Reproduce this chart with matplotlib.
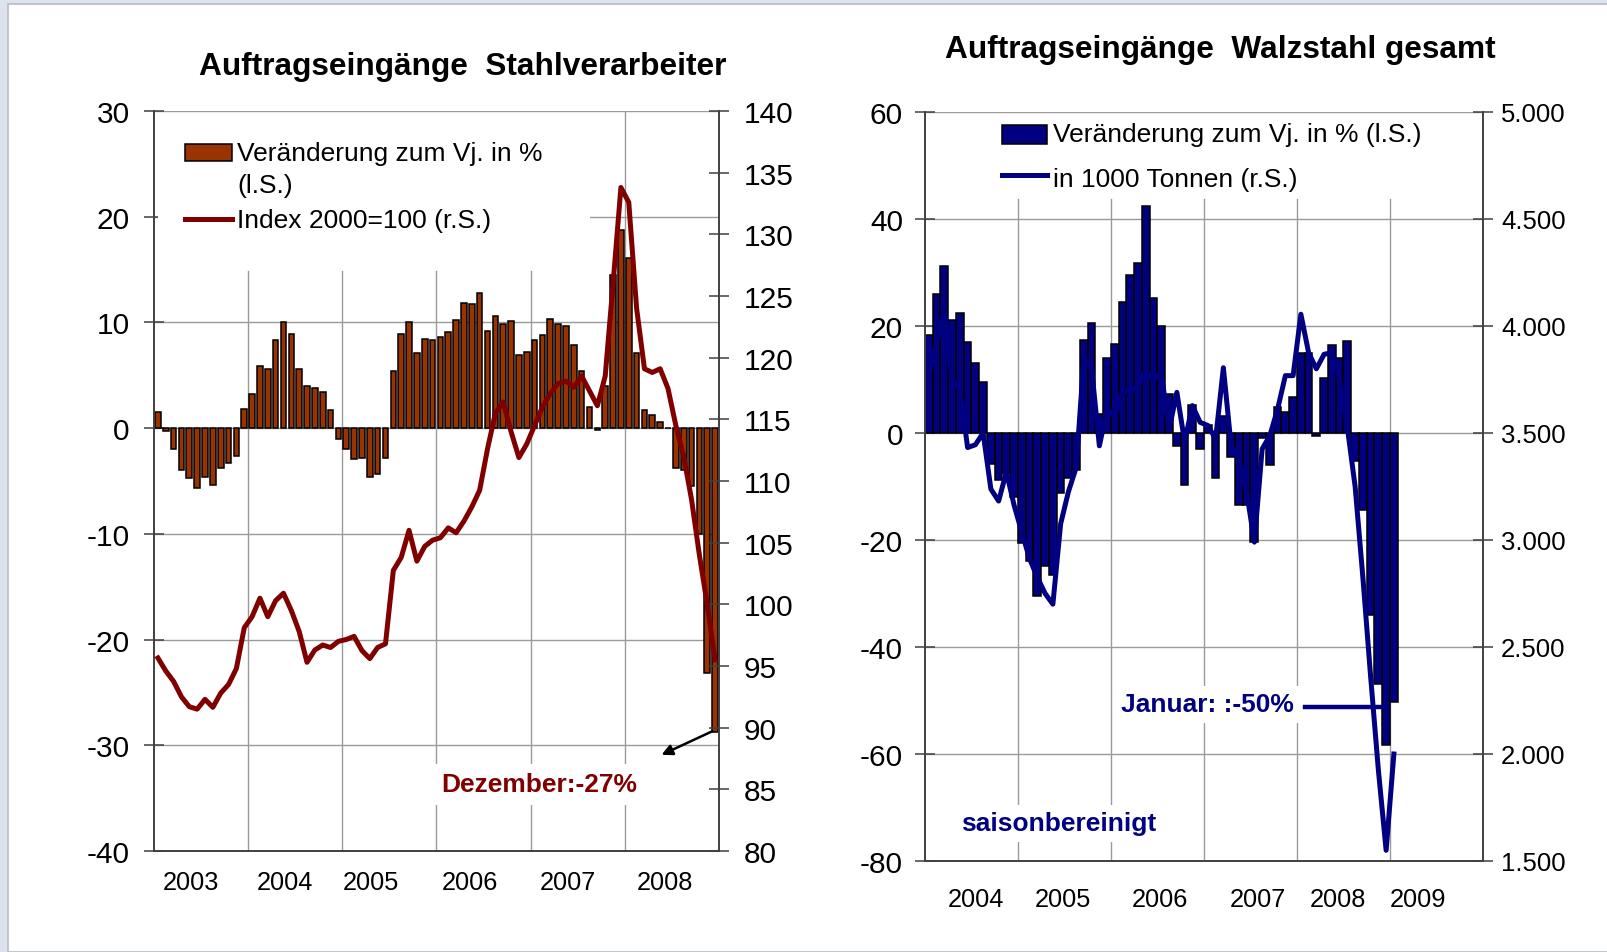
import matplotlib
matplotlib.use("Agg")
import matplotlib.pyplot as plt
from matplotlib.patches import Rectangle
from matplotlib.lines import Line2D
import numpy as np

plt.rcParams['font.family'] = ['Liberation Sans', 'DejaVu Sans']
plt.rcParams['axes.unicode_minus'] = False

# ---------------- data: left chart (2003-2008, monthly) ----------------
left_years = ['2003', '2004', '2005', '2006', '2007', '2008']
left_change = [1.5, -0.25, -2.0, -4.0, -4.7, -5.7, -4.6, -5.4, -3.8, -3.3, -2.6, 1.8,
               3.25, 5.9, 5.55, 8.3, 10.0, 8.9, 5.55, 4.0, 3.8, 3.4, 1.7, -1.0,
               -2.0, -2.9, -2.8, -4.6, -4.3, -2.8, 5.4, 8.9, 10.0, 7.1, 8.45, 8.3,
               8.6, 9.1, 10.2, 11.8, 11.7, 12.8, 9.2, 10.6, 9.85, 10.15, 6.9, 7.2,
               8.3, 8.8, 10.3, 9.85, 9.7, 7.85, 5.4, 2.0, -0.15, 4.0, 14.5, 18.7,
               16.1, 7.1, 1.7, 1.2, 0.6, 0.0, -3.8, -4.0, -5.5, -10.0, -23.2, -28.7]
left_index = [95.65, 94.6, 93.75, 92.5, 91.7, 91.5, 92.3, 91.65, 92.8, 93.5, 94.8, 98.1,
              99.0, 100.5, 99.0, 100.3, 100.9, 99.5, 97.8, 95.3, 96.3, 96.7, 96.5, 97.0,
              97.15, 97.4, 96.25, 95.6, 96.5, 96.8, 102.75, 103.8, 106.0, 103.5, 104.7, 105.2,
              105.4, 106.2, 105.8, 106.75, 107.9, 109.25, 112.6, 115.5, 116.4, 114.0, 111.9, 113.0,
              114.5, 116.0, 117.1, 117.9, 118.1, 117.6, 118.5, 117.3, 116.1, 118.5, 126.0, 133.8,
              132.6, 124.0, 119.1, 118.8, 119.1, 117.5, 114.5, 112.0, 108.5, 104.0, 100.0, 95.5]

# ---------------- data: right chart (2004 - Jan 2009, monthly) ----------------
right_years = ['2004', '2005', '2006', '2007', '2008', '2009']
right_change = [18.4, 26.0, 31.2, 21.2, 22.4, 17.0, 13.1, 9.5, -5.8, -8.8, -7.4, -11.9,
                -20.6, -24.0, -30.4, -24.8, -26.6, -11.2, -8.5, -7.0, 17.3, 20.6, 3.5, 14.0,
                16.7, 24.5, 29.6, 31.7, 42.4, 25.2, 20.0, 7.3, -2.4, -9.8, 5.3, -3.0,
                1.5, -8.4, 3.1, -4.5, -13.5, -13.4, -20.4, -1.0, -6.0, 4.9, 3.9, 6.8,
                15.0, 15.0, -0.5, 10.3, 16.5, 14.0, 17.2, -5.3, -14.3, -34.0, -47.0, -58.4,
                -50.3]
right_tonnes = [3775, 3925, 4075, 3750, 3700, 3432, 3445, 3500, 3238, 3182, 3318, 3162,
                3035, 2912, 2825, 2750, 2700, 3075, 3225, 3338, 3850, 3800, 3440, 3612,
                3575, 3700, 3690, 3725, 3788, 3750, 3775, 3518, 3690, 3458, 3628, 3550,
                3535, 3472, 3805, 3440, 3375, 3225, 2990, 3425, 3488, 3612, 3768, 3768,
                4055, 3875, 3800, 3868, 3875, 3750, 3525, 3250, 2825, 2362, 1925, 1550,
                2000]

BROWN = '#993300'
DARKRED = '#800000'
NAVY = '#000080'
GRID = '#9a9a9a'
AXC = '#404040'

W, H = 1608, 953
fig = plt.figure(figsize=(W / 100, H / 100), dpi=100)
fig.patch.set_facecolor('#dce3ee')


def fx(px):
    return px / W


def fy(py):
    return 1 - py / H


# white page
fig.add_artist(Rectangle((fx(8), 0), 1 - fx(8), fy(5), transform=fig.transFigure,
                         facecolor='white', edgecolor='#b8bcc4', linewidth=1.2, zorder=0))

TICKFS = 21.5
YEARFS = 18.3
LEGFS = 19
TITLEFS = 22.8


def style_axis(ax):
    ax.spines['top'].set_visible(False)
    for s in ['left', 'right', 'bottom']:
        ax.spines[s].set_color(AXC)
        ax.spines[s].set_linewidth(1.2)


# ================= LEFT CHART =================
ax1 = fig.add_axes([fx(154), fy(852), fx(719) - fx(154), fy(112) - fy(852)])
x1 = np.arange(len(left_change))
ax1.set_xlim(-0.5, 71.5)
ax1.set_ylim(-40, 30)
ax1.set_yticks(np.arange(-40, 31, 10))
ax1.yaxis.grid(True, color=GRID, linewidth=1.0)
ax1.set_axisbelow(True)
for b in [11.5, 23.5, 35.5, 47.5]:
    ax1.axvline(b, ymin=0, ymax=(852 - 272) / 740, color=GRID, linewidth=1.0, zorder=0.5)
ax1.axvline(59.5, color=GRID, linewidth=1.0, zorder=0.5)
ax1.bar(x1, left_change, width=0.72, color=BROWN, edgecolor='black', linewidth=1.1, zorder=2)
ax1.set_xticks([4.2, 16.2, 27.1, 39.75, 52.2, 64.6])
ax1.set_xticklabels(left_years, fontsize=YEARFS)
ax1.tick_params(axis='x', length=0, pad=13.5)
ax1.tick_params(axis='y', direction='inout', length=15, width=1.1, labelsize=TICKFS, pad=10,
                color=AXC)
style_axis(ax1)

ax1r = ax1.twinx()
ax1r.set_ylim(80, 140)
ax1r.set_yticks(np.arange(80, 141, 5))
ax1r.plot(x1, left_index, color=DARKRED, linewidth=3.6, solid_joinstyle='round', zorder=3)
ax1r.tick_params(axis='y', direction='inout', length=15, width=1.1, labelsize=TICKFS, pad=10,
                 color=AXC)
style_axis(ax1r)

fig.text(fx(462.5), fy(66.8), 'Auftragseingänge  Stahlverarbeiter', fontsize=TITLEFS,
         fontweight='bold', ha='center', va='center')

# legend (left)
leg_bg = Rectangle((fx(158), fy(270)), fx(590) - fx(158), fy(114) - fy(270),
                   facecolor='white', edgecolor='none', zorder=2.5)
ax1r.add_artist(leg_bg)
leg_bg.set_transform(fig.transFigure)
fig.add_artist(Rectangle((fx(185), fy(162)), fx(232) - fx(185), fy(145) - fy(162),
                         transform=fig.transFigure, facecolor=BROWN, edgecolor='black',
                         linewidth=1.1, zorder=5))
fig.add_artist(Line2D([fx(185), fx(232)], [fy(219.5), fy(219.5)], transform=fig.transFigure,
                      color=DARKRED, linewidth=3.6, zorder=5))
fig.text(fx(237), fy(154), 'Veränderung zum Vj. in %', fontsize=LEGFS, va='center', ha='left')
fig.text(fx(237), fy(185.5), '(l.S.)', fontsize=LEGFS, va='center', ha='left')
fig.text(fx(237), fy(221), 'Index 2000=100 (r.S.)', fontsize=LEGFS, va='center', ha='left')

# annotation
fig.text(fx(539), fy(785.5), 'Dezember:-27%', color=DARKRED, fontsize=LEGFS, fontweight='bold',
         ha='center', va='center',
         bbox=dict(facecolor='white', edgecolor='none', pad=6))
ax1.annotate('', xy=(fx(659), fy(757)), xycoords='figure fraction',
             xytext=(fx(715), fy(731)), textcoords='figure fraction',
             arrowprops=dict(arrowstyle='-|>', color='black', lw=1.8, mutation_scale=16))

# ================= RIGHT CHART =================
ax2 = fig.add_axes([fx(925), fy(862), fx(1483) - fx(925), fy(113) - fy(862)])
x2 = np.arange(len(right_change))
ax2.set_xlim(-0.5, 71.5)
ax2.set_ylim(-80, 60)
ax2.set_yticks(np.arange(-80, 61, 20))
ax2.yaxis.grid(True, color=GRID, linewidth=1.0)
ax2.set_axisbelow(True)
for b in [11.5, 23.5, 35.5, 47.5, 59.5]:
    ax2.axvline(b, ymin=0, ymax=(862 - 200) / 749, color=GRID, linewidth=1.0, zorder=0.5)
ax2.bar(x2, right_change, width=1.0, color=NAVY, edgecolor='black', linewidth=1.1, zorder=2)
ax2.set_xticks([6.08, 17.3, 29.8, 42.45, 52.8, 63.1])
ax2.set_xticklabels(right_years, fontsize=YEARFS)
ax2.tick_params(axis='x', length=0, pad=18.5)
ax2.tick_params(axis='y', direction='inout', length=15, width=1.1, labelsize=TICKFS, pad=8.3,
                color=AXC)
style_axis(ax2)

ax2r = ax2.twinx()
ax2r.set_ylim(1500, 5000)
ax2r.set_yticks(np.arange(1500, 5001, 500))
ax2r.set_yticklabels([f'{v:,}'.replace(',', '.') for v in range(1500, 5001, 500)])
ax2r.plot(x2, right_tonnes, color=NAVY, linewidth=3.6, solid_joinstyle='round', zorder=3)
ax2r.tick_params(axis='y', direction='inout', length=15, width=1.1, labelsize=18.5, pad=5.5,
                 color=AXC)
style_axis(ax2r)

fig.text(fx(1220), fy(50.2), 'Auftragseingänge  Walzstahl gesamt', fontsize=TITLEFS,
         fontweight='bold', ha='center', va='center')

# legend (right)
fig.add_artist(Rectangle((fx(1002), fy(144.6)), fx(1047) - fx(1002), fy(126) - fy(144.6),
                         transform=fig.transFigure, facecolor=NAVY, edgecolor='black',
                         linewidth=1.1, zorder=5))
fig.add_artist(Line2D([fx(1002), fx(1047)], [fy(176.4), fy(176.4)], transform=fig.transFigure,
                      color=NAVY, linewidth=3.6, zorder=5))
fig.text(fx(1053), fy(135.4), 'Veränderung zum Vj. in % (l.S.)', fontsize=LEGFS, va='center', ha='left')
fig.text(fx(1053), fy(179.5), 'in 1000 Tonnen (r.S.)', fontsize=LEGFS, va='center', ha='left')

fig.text(fx(1207), fy(705.5), 'Januar: :-50%', color=NAVY, fontsize=LEGFS, fontweight='bold',
         ha='center', va='center', bbox=dict(facecolor='white', edgecolor='none', pad=5))
fig.add_artist(Line2D([fx(1305), fx(1381)], [fy(708), fy(708)], transform=fig.transFigure,
                      color=NAVY, linewidth=3.2, zorder=5))
fig.text(fx(1059), fy(824.5), 'saisonbereinigt', color=NAVY, fontsize=LEGFS, fontweight='bold',
         ha='center', va='center', bbox=dict(facecolor='white', edgecolor='none', pad=5))

fig.savefig('out.png', dpi=100, facecolor=fig.get_facecolor())
